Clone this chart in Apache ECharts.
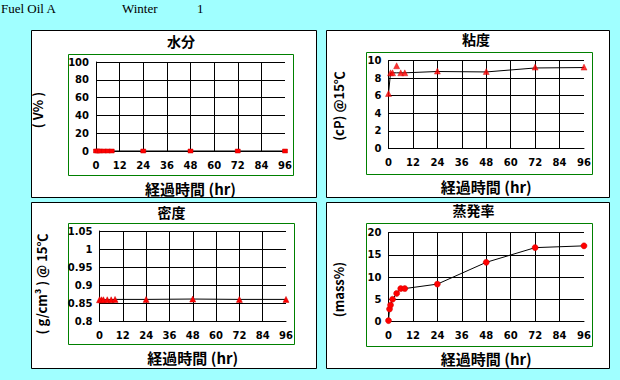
<!DOCTYPE html>
<html><head><meta charset="utf-8">
<script src="https://cdn.jsdelivr.net/npm/echarts@6/dist/echarts.min.js"></script>
<style>html,body{margin:0;padding:0;background:#a0ffff;} #c{width:620px;height:380px;}</style>
</head><body><div id="c"></div>
<script>
// ---- data ----
const hours = [0, 1, 2, 4, 6, 8, 24, 48, 72, 96];
const evapHours = [0, 0.5, 1, 2, 4, 6, 8, 24, 48, 72, 96];
const water = [0, 0, 0, 0, 0, 0, 0, 0, 0, 0];
const viscosity = [6.25, 8.6, 8.6, 9.4, 8.6, 8.6, 8.8, 8.75, 9.25, 9.25];
const viscosityLine = [6.25, 8.6, 8.6, 8.6, 8.6, 8.6, 8.75, 8.7, 9.15, 9.2];
const density = [0.859, 0.859, 0.859, 0.859, 0.859, 0.860, 0.860, 0.861, 0.860, 0.860];
const evaporation = [0.2, 2.8, 3.7, 5.0, 6.3, 7.4, 7.4, 8.4, 13.3, 16.6, 17.0];
const xTicks = {min: 0, max: 96, interval: 12};
const titles = ['水分', '粘度', '密度', '蒸発率'];
const yNames = ['( V% )', '(cP) @15℃', '( g/cm³ ) @ 15℃', '(mass%)'];
const xName = '経過時間 (hr)';
const header = ['Fuel Oil A', 'Winter', '1'];
const yScales = [
  {min: 0, max: 100, interval: 20},
  {min: 0, max: 10, interval: 2},
  {min: 0.8, max: 1.05, interval: 0.05},
  {min: 0, max: 20, interval: 5}
];

const pairs = (xs, ys) => xs.map((x, i) => [x, ys[i]]);

// ---- layout ----
const grids = [
  {left: 96, top: 62, width: 189, height: 89},
  {left: 388.5, top: 60.5, width: 195.5, height: 88},
  {left: 99.5, top: 231, width: 186.5, height: 90},
  {left: 388.5, top: 232.5, width: 195.5, height: 89}
];
const panels = [[31, 30, 285, 167], [326, 30, 283, 167], [31, 202, 285, 166], [326, 202, 283, 166]];
const boxes = [[68, 54, 225, 121], [366, 52, 226, 122], [68, 223, 226, 121], [366, 223, 226, 123]];
const titlePos = [[181, 41], [476, 38.5], [171.5, 212], [473.5, 209.5]];
const yNamePos = [[37, 110], [338.5, 106], [41, 284], [338.5, 289.5]];
const nameGaps = [30, 30, 29, 29];

const cjk = '"Noto Sans CJK JP", sans-serif';
const lbl = {color: '#000', fontFamily: 'DejaVu Sans', fontWeight: 'bold', fontSize: 10};

const graphic = [];
panels.forEach(p => graphic.push({type: 'rect', silent: true, z: -10,
  shape: {x: p[0] + 0.5, y: p[1] + 0.5, width: p[2], height: p[3]},
  style: {fill: '#fff', stroke: '#000', lineWidth: 1}}));
boxes.forEach(b => graphic.push({type: 'rect', silent: true, z: -9,
  shape: {x: b[0] + 0.5, y: b[1] + 0.5, width: b[2], height: b[3]},
  style: {fill: 'none', stroke: '#008000', lineWidth: 1}}));
titles.forEach((t, i) => graphic.push({type: 'text', silent: true,
  x: titlePos[i][0], y: titlePos[i][1],
  style: {text: t, fill: '#000', font: 'bold 14px ' + cjk, textAlign: 'center', textVerticalAlign: 'middle'}}));
yNames.forEach((t, i) => graphic.push({type: 'text', silent: true,
  x: yNamePos[i][0], y: yNamePos[i][1], rotation: Math.PI / 2,
  style: {text: t, fill: '#000', font: 'bold 13px ' + cjk, textAlign: 'center', textVerticalAlign: 'middle'}}));
const headerX = [1, 122, 197];
header.forEach((t, i) => graphic.push({type: 'text', silent: true, x: headerX[i], y: 8.5,
  style: {text: t, fill: '#000', font: '13px "Liberation Serif", serif', textAlign: 'left', textVerticalAlign: 'middle'}}));

const xAxis = grids.map((g, i) => ({
  type: 'value', gridIndex: i, min: xTicks.min, max: xTicks.max, interval: xTicks.interval,
  axisLine: {show: true, onZero: false, lineStyle: {color: '#000', width: 1}},
  axisTick: {show: false},
  axisLabel: Object.assign({margin: 9}, lbl),
  splitLine: {show: true, showMaxLine: false, lineStyle: {color: '#000', width: 1}},
  name: xName, nameLocation: 'middle', nameGap: nameGaps[i],
  nameTextStyle: {color: '#000', fontFamily: cjk, fontWeight: 'bold', fontSize: 15}
}));
const yAxis = yScales.map((s, i) => ({
  type: 'value', gridIndex: i, min: s.min, max: s.max, interval: s.interval,
  axisLine: {show: true, onZero: false, lineStyle: {color: '#000', width: 1}},
  axisTick: {show: false},
  axisLabel: Object.assign({margin: 7}, lbl),
  splitLine: {show: true, lineStyle: {color: '#000', width: 1}}
}));

const lineStyle = {color: '#000', width: 1};
const marker = (sym, size) => ({type: 'line', symbol: sym, symbolSize: size, showSymbol: true,
  itemStyle: {color: '#ff0000', borderColor: '#cc0000', borderWidth: 0.5}, lineStyle: lineStyle, animation: false, z: 3});

const series = [
  Object.assign(marker('rect', [5, 4]), {xAxisIndex: 0, yAxisIndex: 0, data: pairs(hours, water)}),
  {type: 'line', xAxisIndex: 1, yAxisIndex: 1, data: pairs(hours, viscosityLine), symbol: 'none', lineStyle: lineStyle, animation: false, z: 2},
  {type: 'scatter', xAxisIndex: 1, yAxisIndex: 1, data: pairs(hours, viscosity), symbol: 'triangle', symbolSize: 6,
    itemStyle: {color: '#ff0000', borderColor: '#cc0000', borderWidth: 0.5}, animation: false, z: 3},
  Object.assign(marker('triangle', 6), {xAxisIndex: 2, yAxisIndex: 2, data: pairs(hours, density)}),
  Object.assign(marker('circle', 6), {xAxisIndex: 3, yAxisIndex: 3, data: pairs(evapHours, evaporation)})
];

const chart = echarts.init(document.getElementById('c'), null, {renderer: 'svg', width: 620, height: 380});
chart.setOption({
  backgroundColor: '#a0ffff',
  animation: false,
  grid: grids.map(g => Object.assign({containLabel: false}, g)),
  xAxis, yAxis, series, graphic
});
</script></body></html>
